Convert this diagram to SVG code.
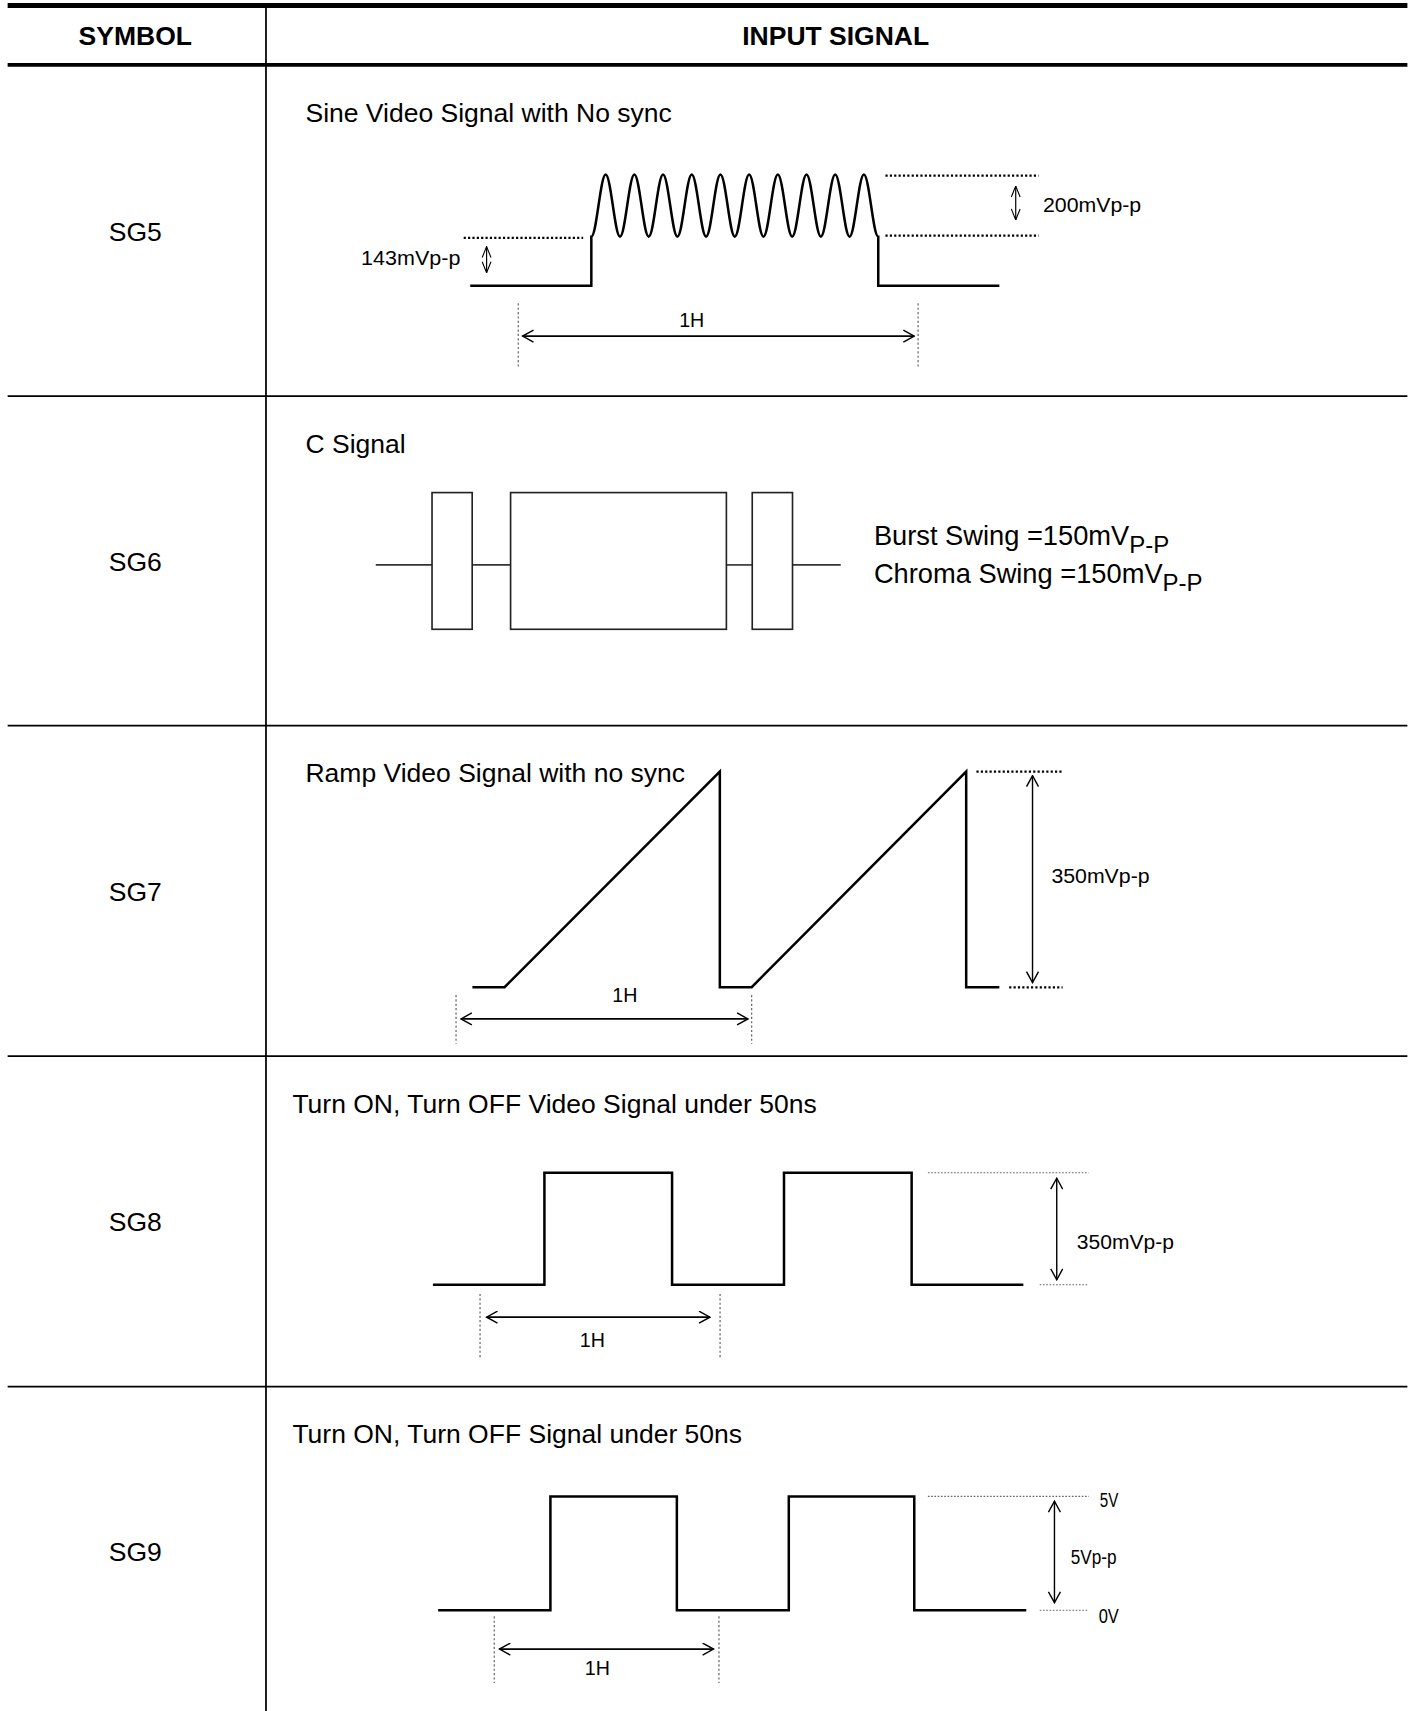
<svg xmlns="http://www.w3.org/2000/svg" width="1413" height="1711" viewBox="0 0 1413 1711">
<style>
text{font-family:"Liberation Sans",Arial,sans-serif;fill:#000}
.big{font-size:24.3px}
.hdr{font-size:24.3px;font-weight:bold;text-anchor:middle}
.sym{font-size:24.3px;text-anchor:middle}
.lab{font-size:18.5px}
.h1{font-size:18px;text-anchor:middle}
.tbl{stroke:#000;stroke-width:1.6;fill:none}
.wave{fill:none;stroke:#000;stroke-width:2.3;stroke-linejoin:miter}
.box{fill:none;stroke:#222;stroke-width:1.5}
.cl{stroke:#333;stroke-width:1.5}
.dot{stroke:#000;stroke-width:2;stroke-dasharray:2 2;fill:none}
.tdot{stroke:#666;stroke-width:1;stroke-dasharray:1.5 1.5;fill:none}
.vdot{stroke:#555;stroke-width:1;stroke-dasharray:2 2;fill:none}
.arr{stroke:#000;stroke-width:1.3;fill:none;marker-start:url(#ah);marker-end:url(#ah)}
.arr1{stroke:#000;stroke-width:1.6;fill:none;marker-start:url(#ah);marker-end:url(#ah)}
.sarr{stroke:#000;stroke-width:1.1;fill:none;marker-start:url(#sh);marker-end:url(#sh)}
</style>
<defs>
<marker id="ah" viewBox="0 0 12 12" refX="11" refY="6" markerWidth="12" markerHeight="12" markerUnits="userSpaceOnUse" orient="auto-start-reverse"><path d="M1,0.5 L11,6 L1,11.5" fill="none" stroke="#000" stroke-width="1.3"/></marker>
<marker id="sh" viewBox="0 0 12 10" refX="11.5" refY="5" markerWidth="11" markerHeight="9.5" markerUnits="userSpaceOnUse" orient="auto-start-reverse"><path d="M0.5,0.6 L11.5,5 L0.5,9.4" fill="none" stroke="#000" stroke-width="1.1"/></marker>
</defs>
<rect x="0" y="0" width="1413" height="1711" fill="#fff"/>
<g transform="scale(1.091)">
<g id="table">
<line x1="7" y1="5" x2="1290" y2="5" stroke="#000" stroke-width="4.5"/>
<line x1="7" y1="59.5" x2="1290" y2="59.5" stroke="#000" stroke-width="3.5"/>
<line class="tbl" x1="243.8" y1="3" x2="243.8" y2="1570"/>
<line class="tbl" x1="7" y1="363" x2="1290" y2="363"/>
<line class="tbl" x1="7" y1="665" x2="1290" y2="665"/>
<line class="tbl" x1="7" y1="968" x2="1290" y2="968"/>
<line class="tbl" x1="7" y1="1271" x2="1290" y2="1271"/>
<text class="hdr" x="124" y="41.5">SYMBOL</text>
<text class="hdr" x="766" y="41.5">INPUT SIGNAL</text>
</g>
<g id="sg5">
<text class="sym" x="124" y="220.5">SG5</text>
<text class="big" x="280" y="111.5">Sine Video Signal with No sync</text>
<path class="wave" d="M431,262 H542 V216.9 c4.78,0 8.37,-57 13.15,-57 s8.37,57 13.15,57 s8.37,-57 13.15,-57 s8.37,57 13.15,57 s8.37,-57 13.15,-57 s8.37,57 13.15,57 s8.37,-57 13.15,-57 s8.37,57 13.15,57 s8.37,-57 13.15,-57 s8.37,57 13.15,57 s8.37,-57 13.15,-57 s8.37,57 13.15,57 s8.37,-57 13.15,-57 s8.37,57 13.15,57 s8.37,-57 13.15,-57 s8.37,57 13.15,57 s8.37,-57 13.15,-57 s8.37,57 13.15,57 s8.37,-57 13.15,-57 s8.37,57 13.15,57 V262 H916"/>
<line class="dot" x1="425" y1="218" x2="534.5" y2="218"/>
<line class="dot" x1="811.6" y1="161" x2="952" y2="161"/>
<line class="dot" x1="811.6" y1="216" x2="952" y2="216"/>
<line class="vdot" x1="475" y1="278" x2="475" y2="337.5"/>
<line class="vdot" x1="841.5" y1="278" x2="841.5" y2="337.5"/>
<text class="lab" x="331" y="243" textLength="91" lengthAdjust="spacingAndGlyphs">143mVp-p</text>
<text class="lab" x="956" y="194" textLength="90" lengthAdjust="spacingAndGlyphs">200mVp-p</text>
<text class="h1" x="634" y="299.5">1H</text>
</g>
<g id="sg6">
<text class="sym" x="124" y="523.5">SG6</text>
<text class="big" x="280" y="415.5">C Signal</text>
<line class="cl" x1="344.4" y1="517.8" x2="396" y2="517.8"/>
<line class="cl" x1="432.8" y1="517.8" x2="468" y2="517.8"/>
<line class="cl" x1="665.8" y1="517.8" x2="689.5" y2="517.8"/>
<line class="cl" x1="726.4" y1="517.8" x2="770.6" y2="517.8"/>
<rect class="box" x="396" y="451.5" width="36.8" height="125.3"/>
<rect class="box" x="468" y="451.5" width="197.8" height="125.3"/>
<rect class="box" x="689.5" y="451.5" width="36.9" height="125.3"/>
<text x="801" y="499.5" font-size="25">Burst Swing =150mV<tspan font-size="22" dy="7">P-P</tspan></text>
<text x="801" y="534.5" font-size="25">Chroma Swing =150mV<tspan font-size="22" dy="7">P-P</tspan></text>
</g>
<g id="sg7">
<text class="sym" x="124" y="825.5">SG7</text>
<text class="big" x="280" y="717">Ramp Video Signal with no sync</text>
<path class="wave" d="M433,904.8 H462.5 L659.8,707.2 V904.8 H689 L885.6,707.2 V904.8 H916"/>
<line class="dot" x1="895" y1="707.2" x2="974" y2="707.2"/>
<line class="dot" x1="925" y1="905" x2="974" y2="905"/>
<line class="vdot" x1="418" y1="912" x2="418" y2="956.7"/>
<line class="vdot" x1="689" y1="912" x2="689" y2="956.7"/>
<text class="lab" x="963.7" y="809" textLength="90" lengthAdjust="spacingAndGlyphs">350mVp-p</text>
<text class="h1" x="572.7" y="918">1H</text>
</g>
<g id="sg8">
<text class="sym" x="124" y="1128.5">SG8</text>
<text class="big" x="268" y="1020.5">Turn ON, Turn OFF Video Signal under 50ns</text>
<path class="wave" d="M396.8,1177.6 H499 V1075 H616 V1177.6 H718.6 V1075 H835.6 V1177.6 H938"/>
<line class="tdot" x1="850.5" y1="1075" x2="997.8" y2="1075"/>
<line class="tdot" x1="953" y1="1177.6" x2="998" y2="1177.6"/>
<line class="vdot" x1="440" y1="1186" x2="440" y2="1246"/>
<line class="vdot" x1="660" y1="1186" x2="660" y2="1246"/>
<text class="lab" x="987" y="1144.6" textLength="89" lengthAdjust="spacingAndGlyphs">350mVp-p</text>
<text class="h1" x="543" y="1235">1H</text>
</g>
<g id="sg9">
<text class="sym" x="124" y="1430.5">SG9</text>
<text class="big" x="268" y="1322.6">Turn ON, Turn OFF Signal under 50ns</text>
<path class="wave" d="M401.6,1476 H504.5 V1371.6 H620.4 V1476 H723 V1371.6 H838 V1476 H940.7"/>
<line class="tdot" x1="850.5" y1="1371.6" x2="998" y2="1371.6"/>
<line class="tdot" x1="953" y1="1476" x2="998" y2="1476"/>
<line class="vdot" x1="453" y1="1481.5" x2="453" y2="1542.7"/>
<line class="vdot" x1="659" y1="1481.5" x2="659" y2="1542.7"/>
<text class="lab" x="1008" y="1381" textLength="17" lengthAdjust="spacingAndGlyphs">5V</text>
<text class="lab" x="981.5" y="1434" textLength="42" lengthAdjust="spacingAndGlyphs">5Vp-p</text>
<text class="lab" x="1007" y="1488" textLength="18.5" lengthAdjust="spacingAndGlyphs">0V</text>
<text class="h1" x="547.5" y="1535">1H</text>
</g>
<g id="connectors">
<line class="sarr" x1="446" y1="226" x2="446" y2="250"/>
<line class="sarr" x1="931" y1="170.5" x2="931" y2="201.6"/>
<line class="arr1" x1="479" y1="308" x2="838" y2="308"/>
<line class="arr" x1="946.4" y1="711" x2="946.4" y2="900.6"/>
<line class="arr1" x1="422.5" y1="934" x2="685.6" y2="934"/>
<line class="arr" x1="968.6" y1="1080" x2="968.6" y2="1173"/>
<line class="arr1" x1="446" y1="1207.3" x2="650.7" y2="1207.3"/>
<line class="arr" x1="966.5" y1="1376" x2="966.5" y2="1469"/>
<line class="arr1" x1="457.8" y1="1511.5" x2="654" y2="1511.5"/>
</g>
</g>
</svg>
